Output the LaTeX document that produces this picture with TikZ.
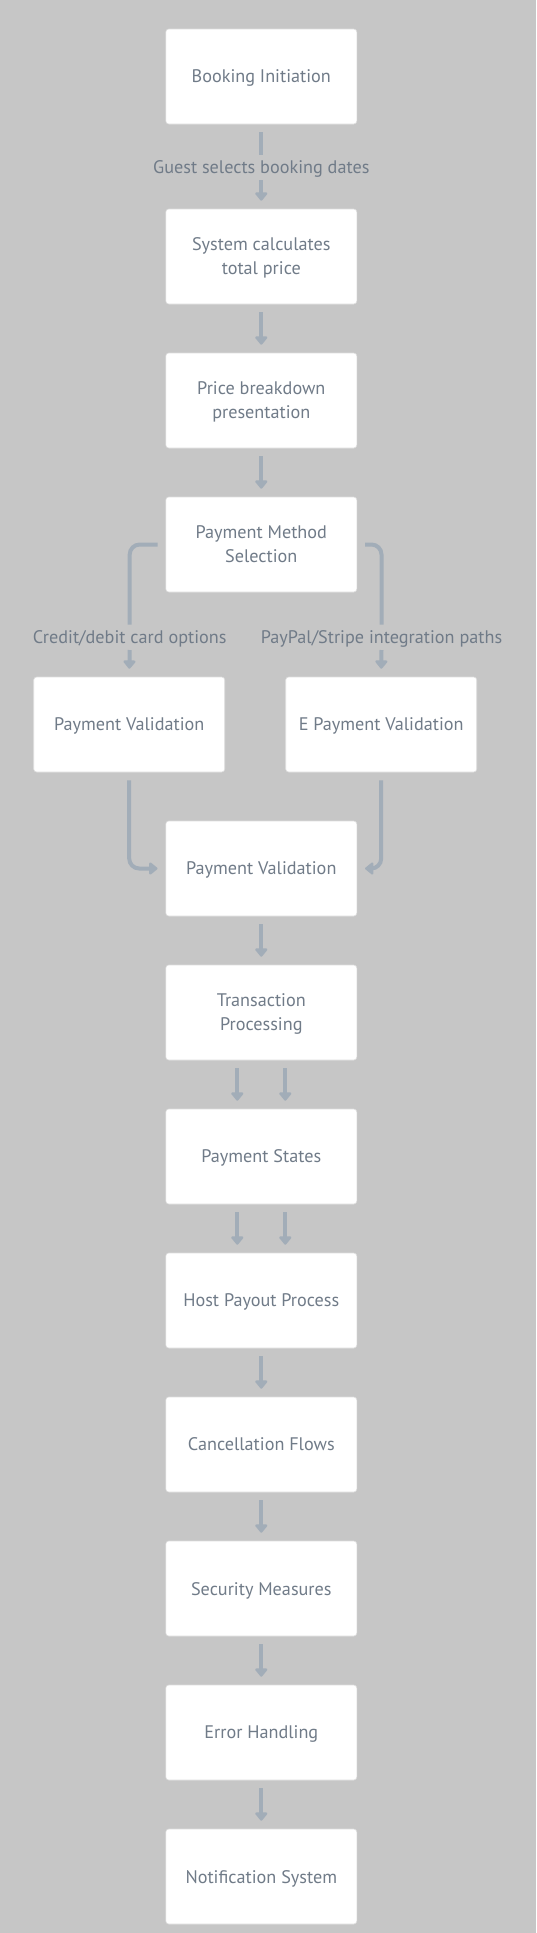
\documentclass[tikz,border=0pt]{standalone}
\usepackage{fontspec}
\setmainfont{PT Sans}
\usetikzlibrary{arrows.meta}
\definecolor{bgc}{RGB}{198,198,198}
\definecolor{txtc}{RGB}{112,123,136}
\definecolor{arrc}{RGB}{162,173,184}
\definecolor{bordc}{RGB}{222,222,222}
\tikzset{
  box/.style={draw=bordc, line width=0.6pt, fill=white, rounded corners=3pt,
    minimum width=191pt, minimum height=95pt, inner sep=0pt, text depth=0pt,
    align=center, text=txtc, font=\fontsize{18.2}{24}\selectfont},
  elabel/.style={text=txtc, font=\fontsize{18.2}{24}\selectfont, inner sep=0pt,
    minimum height=25pt, text depth=0pt},
  conn/.style={draw=arrc, line width=4pt, rounded corners=10pt},
  arr/.style={conn, -{Triangle[width=14pt,length=9pt,round]}},
  gapS/.style={shorten <=8pt},
  gapE/.style={shorten >=8pt}
}
\begin{document}
\begin{tikzpicture}[x=1pt,y=-1pt]
\useasboundingbox (0,0) rectangle (536,1933);
\fill[bgc] (0,0) rectangle (536,1933);

\node[box] (b1) at (261.3,76.5) {Booking Initiation};
\node[box] (b2) at (261.3,256.5) {System calculates\\total price};
\node[box] (b3) at (261.3,400.5) {Price breakdown\\presentation};
\node[box] (b4) at (261.3,544.5) {Payment Method\\Selection};
\node[box] (bl) at (129.2,724.5) {Payment Validation};
\node[box] (br) at (381.2,724.5) {E Payment Validation};
\node[box] (b5) at (261.3,868.5) {Payment Validation};
\node[box] (b6) at (261.3,1012.5) {Transaction\\Processing};
\node[box] (b7) at (261.3,1156.5) {Payment States};
\node[box] (b8) at (261.3,1300.5) {Host Payout Process};
\node[box] (b9) at (261.3,1444.5) {Cancellation Flows};
\node[box] (b10) at (261.3,1588.5) {Security Measures};
\node[box] (b11) at (261.3,1732.5) {Error Handling};
\node[box] (b12) at (261.3,1876.5) {Notification System};

\node[elabel] (l1) at (261.3,167.3) {Guest selects booking dates};
\node[elabel] (l2) at (129.7,637.3) {Credit/debit card options};
\node[elabel] (l3) at (381.5,637.3) {PayPal/Stripe integration paths};

\draw[conn,gapS] (b1.south) -- (l1.north);
\draw[arr,gapE] (l1.south) -- (b2.north);
\draw[arr,gapS,gapE] (b2.south) -- (b3.north);
\draw[arr,gapS,gapE] (b3.south) -- (b4.north);

\draw[conn,gapS] (b4.west) -| (l2.north);
\draw[arr,gapE] (l2.south) -- (bl.north);
\draw[conn,gapS] (b4.east) -| (l3.north);
\draw[arr,gapE] (l3.south) -- (br.north);

\draw[arr,gapS,gapE] (bl.south) |- (b5.west);
\draw[arr,gapS,gapE] (br.south) |- (b5.east);

\draw[arr,gapS,gapE] (b5.south) -- (b6.north);
\draw[arr,gapS,gapE] ([xshift=-24pt]b6.south) -- ([xshift=-24pt]b7.north);
\draw[arr,gapS,gapE] ([xshift=24pt]b6.south) -- ([xshift=24pt]b7.north);
\draw[arr,gapS,gapE] ([xshift=-24pt]b7.south) -- ([xshift=-24pt]b8.north);
\draw[arr,gapS,gapE] ([xshift=24pt]b7.south) -- ([xshift=24pt]b8.north);
\draw[arr,gapS,gapE] (b8.south) -- (b9.north);
\draw[arr,gapS,gapE] (b9.south) -- (b10.north);
\draw[arr,gapS,gapE] (b10.south) -- (b11.north);
\draw[arr,gapS,gapE] (b11.south) -- (b12.north);
\end{tikzpicture}
\end{document}
